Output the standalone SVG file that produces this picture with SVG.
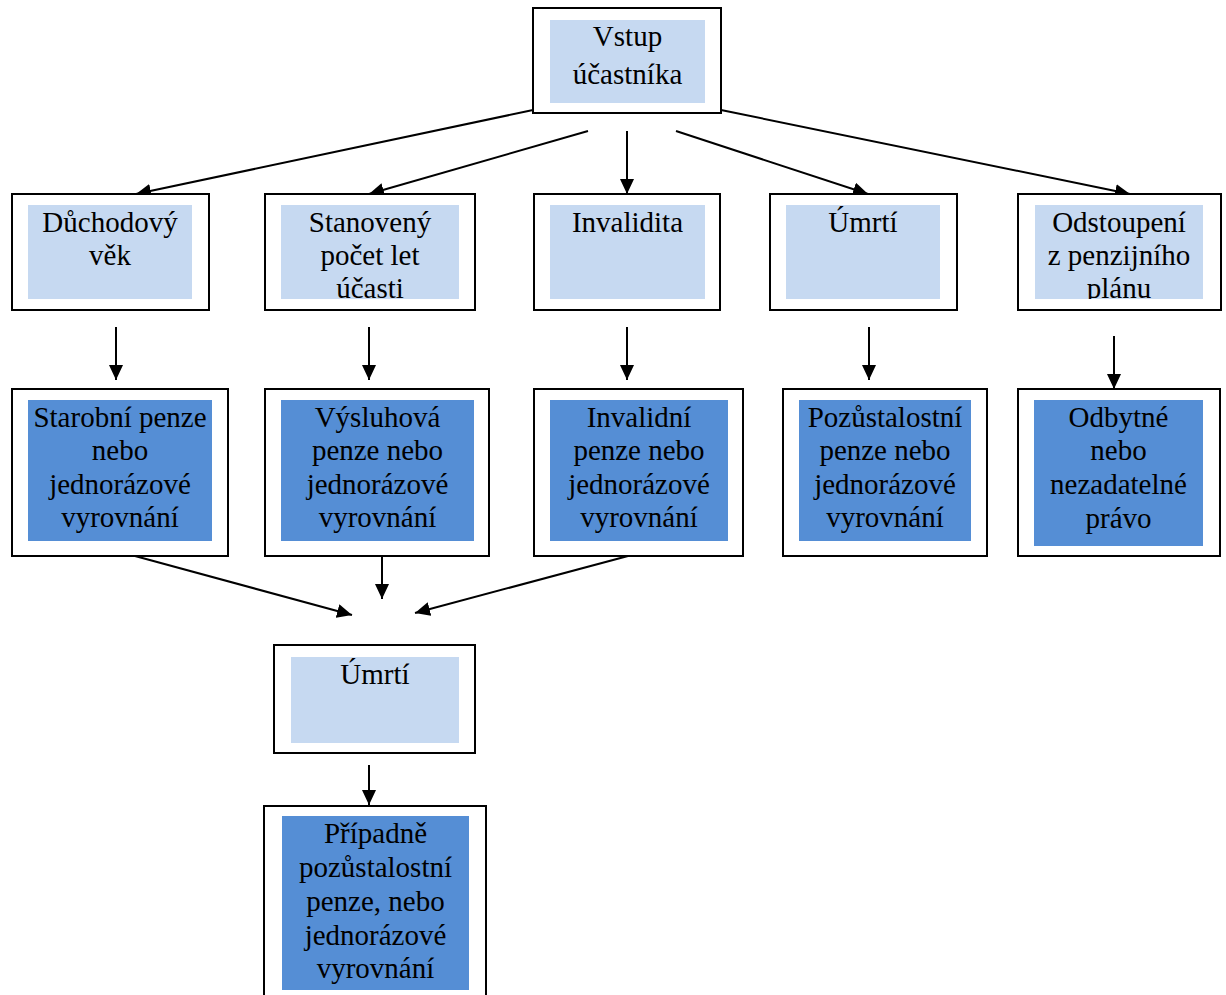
<svg xmlns="http://www.w3.org/2000/svg" width="1226" height="995" viewBox="0 0 1226 995">
<style>
.outer{fill:#fff;stroke:#000;stroke-width:2}
.light{fill:#C6D9F1}
.dark{fill:#558ED5}
.t{font-family:"Liberation Serif","Times New Roman",serif;font-size:29px;text-anchor:middle;fill:#000}
.c{fill:none;stroke:#000;stroke-width:2;marker-end:url(#ah)}
</style>
<defs>
<marker id="ah" markerUnits="userSpaceOnUse" markerWidth="15" markerHeight="14" refX="15" refY="7" orient="auto">
<path d="M0,0 L15,7 L0,14 z" fill="#000"/>
</marker>
<clipPath id="cB2"><rect x="281" y="205" width="178" height="94"/></clipPath>
<clipPath id="cB5"><rect x="1035" y="205" width="168" height="94"/></clipPath>
<clipPath id="cE"><rect x="282" y="816" width="187" height="174"/></clipPath>
</defs>
<rect width="1226" height="995" fill="#fff"/>

<g id="connectors">
<path class="c" d="M533,110 L136,194"/>
<path class="c" d="M588,131 L369,194"/>
<path class="c" d="M627,131 L627,194"/>
<path class="c" d="M676,131 L868,194"/>
<path class="c" d="M721,110 L1130,194"/>
<path class="c" d="M116,327 L116,380"/>
<path class="c" d="M369,327 L369,380"/>
<path class="c" d="M627,327 L627,380"/>
<path class="c" d="M869,327 L869,380"/>
<path class="c" d="M1114,336 L1114,389"/>
<path class="c" d="M135,556 L352,615"/>
<path class="c" d="M382,556 L382,599"/>
<path class="c" d="M628,556 L415,613"/>
<path class="c" d="M369,765 L369,805"/>
</g>

<g id="vstup">
<rect class="outer" x="533" y="8" width="188" height="105"/>
<rect class="light" x="550" y="20" width="155" height="83"/>
<text class="t" x="627.5" y="46">Vstup</text>
<text class="t" x="627.5" y="84">účastníka</text>
</g>

<g id="duchodovy-vek">
<rect class="outer" x="12" y="194" width="197" height="116"/>
<rect class="light" x="28" y="205" width="164" height="94"/>
<text class="t" x="110" y="232">Důchodový</text>
<text class="t" x="110" y="265">věk</text>
</g>

<g id="stanoveny-pocet">
<rect class="outer" x="265" y="194" width="210" height="116"/>
<rect class="light" x="281" y="205" width="178" height="94"/>
<g clip-path="url(#cB2)">
<text class="t" x="370" y="232">Stanovený</text>
<text class="t" x="370" y="265">počet let</text>
<text class="t" x="370" y="298">účasti</text>
</g>
</g>

<g id="invalidita">
<rect class="outer" x="534" y="194" width="186" height="116"/>
<rect class="light" x="550" y="205" width="155" height="94"/>
<text class="t" x="627.5" y="232">Invalidita</text>
</g>

<g id="umrti-1">
<rect class="outer" x="770" y="194" width="187" height="116"/>
<rect class="light" x="786" y="205" width="154" height="94"/>
<text class="t" x="863" y="232">Úmrtí</text>
</g>

<g id="odstoupeni">
<rect class="outer" x="1018" y="194" width="203" height="116"/>
<rect class="light" x="1035" y="205" width="168" height="94"/>
<g clip-path="url(#cB5)">
<text class="t" x="1119" y="232">Odstoupení</text>
<text class="t" x="1119" y="265">z penzijního</text>
<text class="t" x="1119" y="298">plánu</text>
</g>
</g>

<g id="starobni">
<rect class="outer" x="12" y="389" width="216" height="167"/>
<rect class="dark" x="28" y="400" width="184" height="141"/>
<text class="t" x="120" y="427">Starobní penze</text>
<text class="t" x="120" y="460">nebo</text>
<text class="t" x="120" y="494">jednorázové</text>
<text class="t" x="120" y="527">vyrovnání</text>
</g>

<g id="vysluhova">
<rect class="outer" x="265" y="389" width="224" height="167"/>
<rect class="dark" x="281" y="400" width="193" height="141"/>
<text class="t" x="377.5" y="427">Výsluhová</text>
<text class="t" x="377.5" y="460">penze nebo</text>
<text class="t" x="377.5" y="494">jednorázové</text>
<text class="t" x="377.5" y="527">vyrovnání</text>
</g>

<g id="invalidni">
<rect class="outer" x="534" y="389" width="209" height="167"/>
<rect class="dark" x="550" y="400" width="178" height="141"/>
<text class="t" x="639" y="427">Invalidní</text>
<text class="t" x="639" y="460">penze nebo</text>
<text class="t" x="639" y="494">jednorázové</text>
<text class="t" x="639" y="527">vyrovnání</text>
</g>

<g id="pozustalostni">
<rect class="outer" x="783" y="389" width="204" height="167"/>
<rect class="dark" x="799" y="400" width="172" height="141"/>
<text class="t" x="885" y="427">Pozůstalostní</text>
<text class="t" x="885" y="460">penze nebo</text>
<text class="t" x="885" y="494">jednorázové</text>
<text class="t" x="885" y="527">vyrovnání</text>
</g>

<g id="odbytne">
<rect class="outer" x="1018" y="389" width="202" height="167"/>
<rect class="dark" x="1034" y="400" width="169" height="146"/>
<text class="t" x="1118.5" y="427">Odbytné</text>
<text class="t" x="1118.5" y="460">nebo</text>
<text class="t" x="1118.5" y="494">nezadatelné</text>
<text class="t" x="1118.5" y="528">právo</text>
</g>

<g id="umrti-2">
<rect class="outer" x="274" y="645" width="201" height="108"/>
<rect class="light" x="291" y="657" width="168" height="86"/>
<text class="t" x="375" y="684">Úmrtí</text>
</g>

<g id="pripadne">
<rect class="outer" x="264" y="806" width="222" height="200"/>
<rect class="dark" x="282" y="816" width="187" height="174"/>
<g clip-path="url(#cE)">
<text class="t" x="375.5" y="843">Případně</text>
<text class="t" x="375.5" y="877">pozůstalostní</text>
<text class="t" x="375.5" y="911">penze, nebo</text>
<text class="t" x="375.5" y="945">jednorázové</text>
<text class="t" x="375.5" y="978">vyrovnání</text>
</g>
</g>
</svg>
